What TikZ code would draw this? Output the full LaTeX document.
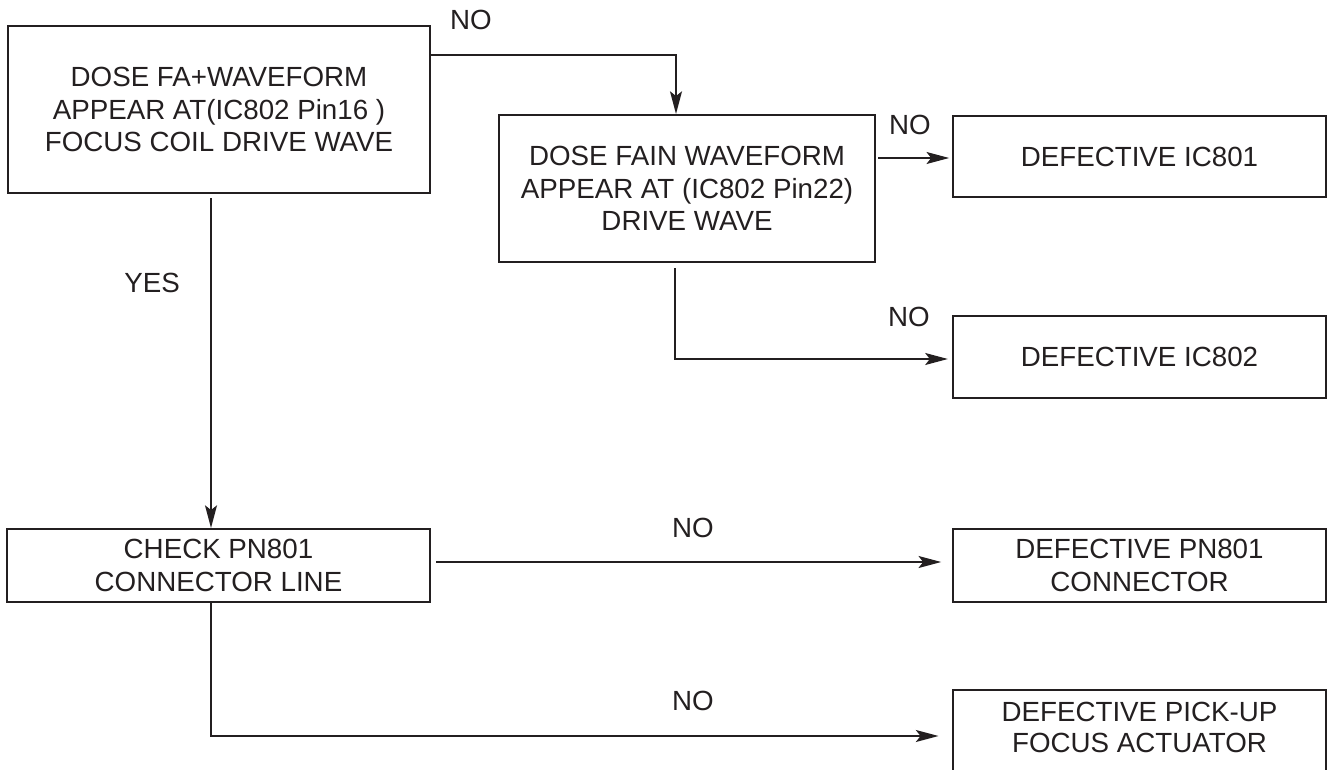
\documentclass[tikz,border=0pt]{standalone}
\usepackage{fontspec}
\setmainfont{Liberation Sans}
\usetikzlibrary{arrows.meta}
\definecolor{ink}{HTML}{231F20}
\begin{document}
\begin{tikzpicture}[x=0.75pt,y=-0.75pt,
  box/.style={draw=ink, line width=1.5pt, rectangle, inner sep=0pt, align=center,
     font=\fontsize{20.8}{24.4}\selectfont, text=ink},
  lbl/.style={inner sep=0pt, font=\fontsize{20.8}{24}\selectfont, text=ink},
  conn/.style={draw=ink, line width=1.1pt},
  arr/.style={conn, -{Stealth[length=17pt, width=9pt, inset=3.5pt]}}
]
\path[use as bounding box] (0,0) rectangle (1330,770);
\clip (0,0) rectangle (1330,770);

% boxes
\node[box, minimum width=316.5pt, minimum height=125.25pt] (A) at (219,109.5)
  {DOSE FA+WAVEFORM\\APPEAR AT(IC802 Pin16 )\\FOCUS COIL DRIVE WAVE};
\node[box, minimum width=282pt, minimum height=110.25pt] (B) at (687,188.5)
  {DOSE FAIN WAVEFORM\\APPEAR AT (IC802 Pin22)\\DRIVE WAVE};
\node[box, minimum width=280pt, minimum height=60.75pt] (C) at (1139.5,156.5)
  {DEFECTIVE IC801};
\node[box, minimum width=280pt, minimum height=61.5pt] (D) at (1139.5,357)
  {DEFECTIVE IC802};
\node[box, minimum width=317.25pt, minimum height=54.75pt] (E) at (218.5,565.5)
  {CHECK PN801\\CONNECTOR LINE};
\node[box, minimum width=280pt, minimum height=54.75pt] (F) at (1139.5,565.5)
  {DEFECTIVE PN801\\CONNECTOR};
\node[box, minimum width=280pt, minimum height=105pt, anchor=north] (G) at (1139.5,689) {};
\node[lbl, align=center, font=\fontsize{20.8}{23.4}\selectfont] (Gt) at (1139.5,727.5)
  {DEFECTIVE PICK-UP\\FOCUS ACTUATOR};

% bend coordinates
\coordinate (ab) at (676,55);
\coordinate (ae) at (211,0);
\coordinate (bc) at (0,158);
\coordinate (bd) at (675,359);
\coordinate (ef) at (0,562);
\coordinate (eg) at (211,736);

% connectors
\draw[arr] (ab -| A.east) -- (ab) -- (ab |- B.north);
\draw[arr, shorten <=3pt] (ae |- A.south) -- (ae |- E.north);
\draw[arr, shorten <=1.5pt, shorten >=2pt] (bc -| B.east) -- (bc -| C.west);
\draw[arr, shorten <=4pt, shorten >=3pt] (bd |- B.south) -- (bd) -- (bd -| D.west);
\draw[arr, shorten <=4pt, shorten >=8pt] (ef -| E.east) -- (ef -| F.west);
\draw[arr, shorten >=10pt] (eg |- E.south) -- (eg) -- (eg -| G.west);

% labels
\node[lbl] (n1) at (471,20) {NO};
\node[lbl] (y1) at (152,283) {YES};
\node[lbl] (n2) at (910,125) {NO};
\node[lbl] (n3) at (909,317) {NO};
\node[lbl] (n4) at (693,528) {NO};
\node[lbl] (n5) at (693,701) {NO};
\end{tikzpicture}
\end{document}
